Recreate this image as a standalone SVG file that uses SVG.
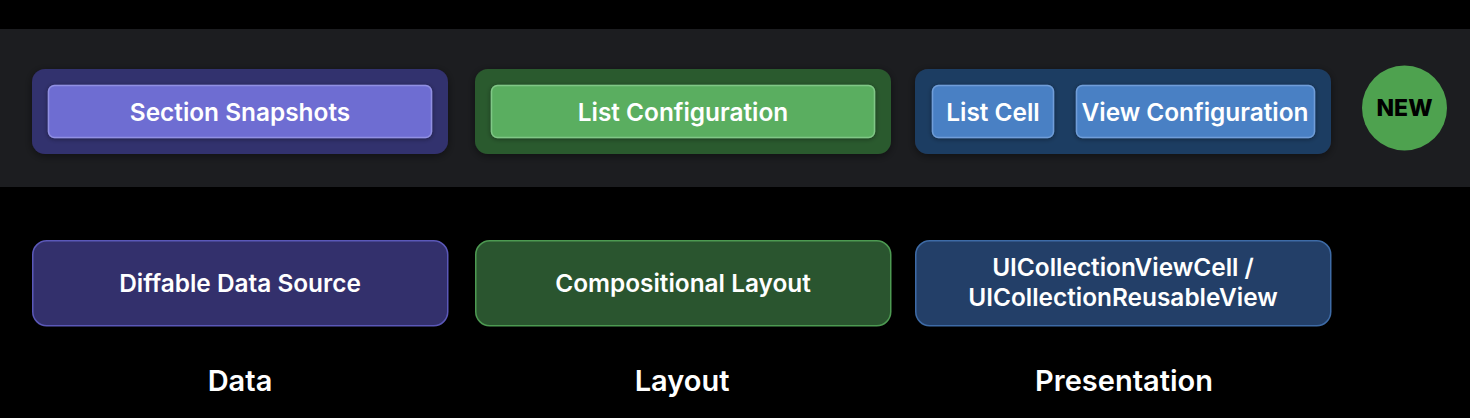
<svg xmlns="http://www.w3.org/2000/svg" width="1470" height="418" viewBox="0 0 1470 418">
<defs>
<filter id="sh" x="-10%" y="-30%" width="120%" height="160%">
<feDropShadow dx="0" dy="2" stdDeviation="4" flood-color="#000" flood-opacity="0.45"/>
</filter>
<filter id="sh2" x="-10%" y="-30%" width="120%" height="160%">
<feDropShadow dx="0" dy="1" stdDeviation="2.5" flood-color="#000" flood-opacity="0.4"/>
</filter>
</defs>
<style>
text{font-family:Inter,"Liberation Sans",sans-serif;fill:#fff;text-anchor:middle}
.t{font-size:24.4px;font-weight:600}
.h{font-size:29px;font-weight:600}
.new{font-size:23px;font-weight:800;fill:#000}
.outer{filter:url(#sh)}
.inner{filter:url(#sh2);stroke-width:1.5}
.bot{stroke-width:1.5}
</style>
<rect width="1470" height="418" fill="#000"/>
<rect x="0" y="29" width="1470" height="158" fill="#1c1d20"/>

<g id="section-snapshots">
<rect class="outer" x="32" y="69" width="416" height="85" rx="13" fill="#33306e"/>
<rect class="inner" x="48.5" y="85.5" width="383" height="52" rx="6" fill="#6e6dd2" stroke="#9190e2"/>
<text class="t" x="240" y="121">Section Snapshots</text>
</g>

<g id="list-configuration">
<rect class="outer" x="475" y="69" width="416" height="85" rx="13" fill="#2b5a2f"/>
<rect class="inner" x="491.5" y="85.5" width="383" height="52" rx="6" fill="#5aae61" stroke="#80c786"/>
<text class="t" x="683" y="121">List Configuration</text>
</g>

<g id="presentation-new">
<rect class="outer" x="915" y="69" width="416" height="85" rx="13" fill="#1f3d62"/>
<g id="list-cell">
<rect class="inner" x="932.5" y="85.5" width="121" height="52" rx="6" fill="#4a80c4" stroke="#6f9dd8"/>
<text class="t" x="993" y="121">List Cell</text>
</g>
<g id="view-configuration">
<rect class="inner" x="1076.5" y="85.5" width="238" height="52" rx="6" fill="#4a80c4" stroke="#6f9dd8"/>
<text class="t" x="1195" y="121">View Configuration</text>
</g>
</g>

<g id="new-badge">
<circle cx="1404.5" cy="108" r="42.5" fill="#4ea24f"/>
<text class="new" x="1404.5" y="116">NEW</text>
</g>

<g id="diffable-data-source">
<rect class="bot" x="32.75" y="240.75" width="415" height="85" rx="14" fill="#33306c" stroke="#5b58b8"/>
<text class="t" x="240" y="292">Diffable Data Source</text>
</g>

<g id="compositional-layout">
<rect class="bot" x="475.75" y="240.75" width="415" height="85" rx="14" fill="#2a552f" stroke="#4d9a52"/>
<text class="t" x="683" y="292">Compositional Layout</text>
</g>

<g id="uicollectionviewcell">
<rect class="bot" x="915.75" y="240.75" width="415" height="85" rx="14" fill="#233f68" stroke="#3e6ba6"/>
<text class="t" x="1123" y="276">UICollectionViewCell /</text>
<text class="t" x="1123" y="306">UICollectionReusableView</text>
</g>

<g id="labels">
<text class="h" x="240" y="391">Data</text>
<text class="h" x="682" y="391">Layout</text>
<text class="h" x="1124" y="391">Presentation</text>
</g>
<g id="connectors"></g>
</svg>
